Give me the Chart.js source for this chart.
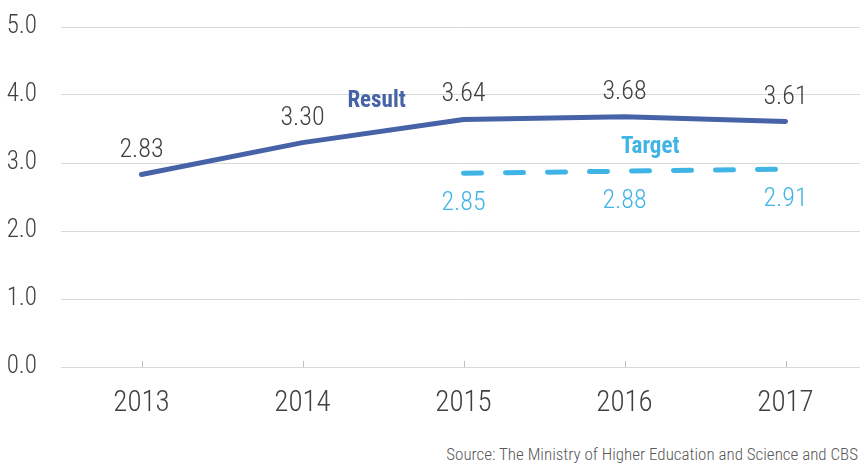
<!DOCTYPE html>
<html>
<head>
<meta charset="utf-8">
<script src="https://cdn.jsdelivr.net/npm/chart.js@4/dist/chart.umd.min.js"></script>
<style>
    html, body { margin: 0; padding: 0; background: #fff; overflow: hidden; }
    #wrap { position: absolute; left: 0; top: 0; width: 866px; height: 440px; }
    #source {
        position: absolute; right: 2px; top: 444px;
        font-family: "Roboto Condensed", sans-serif;
        font-weight: 300;
        font-size: 17px; color: #595959; white-space: nowrap;
    }
</style>
</head>
<body>
<div id="wrap"><canvas id="chart"></canvas></div>
<div id="source">Source: The Ministry of Higher Education and Science and CBS</div>
<script>
// chart data
const years = ['2013', '2014', '2015', '2016', '2017'];
const resultValues = [2.83, 3.30, 3.64, 3.68, 3.61];
const targetValues = [null, null, 2.85, 2.88, 2.91];
const seriesNames = ['Result', 'Target'];
const yMin = 0;
const yMax = 5;
const yStep = 1;

const FONT = '"Roboto Condensed", "Open Sans", sans-serif';
const BLUE = '#4763a8';
const LIGHT = '#41b4e6';
const GREY = '#404040';

// small upward tick marks on the x axis, at each category
const axisTicks = {
    id: 'axisTicks',
    beforeDatasetsDraw(chart) {
        const { ctx, scales: { x } } = chart;
        ctx.save();
        ctx.strokeStyle = '#bfbfbf';
        ctx.lineWidth = 1;
        x.ticks.forEach((t, i) => {
            const px = Math.round(x.getPixelForTick(i)) + 0.5;
            ctx.beginPath();
            ctx.moveTo(px, x.top);
            ctx.lineTo(px, x.top - 6);
            ctx.stroke();
        });
        ctx.restore();
    }
};

// value labels and series names
const valueLabels = {
    id: 'valueLabels',
    afterDatasetsDraw(chart) {
        const { ctx, scales: { x, y } } = chart;
        ctx.save();
        ctx.textAlign = 'center';
        ctx.textBaseline = 'alphabetic';
        ctx.font = '300 26px ' + FONT;
        chart.data.datasets.forEach((ds, di) => {
            const meta = chart.getDatasetMeta(di);
            meta.data.forEach((pt, i) => {
                const v = ds.data[i];
                if (v == null) return;
                if (di === 0) {
                    ctx.fillStyle = GREY;
                    ctx.fillText(v.toFixed(2), pt.x, pt.y - 18);
                } else {
                    ctx.fillStyle = LIGHT;
                    ctx.fillText(v.toFixed(2), pt.x, pt.y + 37);
                }
            });
        });
        // series names placed in data space
        ctx.font = 'bold 23px ' + FONT;
        ctx.fillStyle = BLUE;
        ctx.fillText(seriesNames[0], x.getPixelForValue(1.46), y.getPixelForValue(3.82));
        ctx.fillStyle = LIGHT;
        ctx.fillText(seriesNames[1], x.getPixelForValue(3.16), y.getPixelForValue(3.15));
        ctx.restore();
    }
};

new Chart(document.getElementById('chart'), {
    type: 'line',
    data: {
        labels: years,
        datasets: [{
            label: seriesNames[0],
            data: resultValues,
            borderColor: BLUE,
            borderWidth: 5,
            borderCapStyle: 'round',
            borderJoinStyle: 'round',
            tension: 0,
            pointRadius: 0
        }, {
            label: seriesNames[1],
            data: targetValues,
            borderColor: LIGHT,
            borderWidth: 5,
            borderDash: [18, 24],
            borderCapStyle: 'round',
            tension: 0,
            pointRadius: 0
        }]
    },
    options: {
        responsive: true,
        maintainAspectRatio: false,
        animation: false,
        layout: { padding: { top: 27, left: 0, right: 0, bottom: 0 } },
        plugins: {
            legend: { display: false },
            tooltip: { enabled: false }
        },
        scales: {
            x: {
                offset: true,
                grid: { display: false, drawTicks: false },
                border: { display: true, color: '#d9d9d9', width: 1 },
                ticks: { color: GREY, font: { family: FONT, size: 29, weight: 300 }, padding: 19 },
                afterFit(scale) { scale.height = 73; }
            },
            y: {
                min: yMin,
                max: yMax,
                grid: { color: '#d9d9d9', drawTicks: false },
                border: { display: false },
                ticks: {
                    stepSize: yStep,
                    color: GREY,
                    font: { family: FONT, size: 25, weight: 300 },
                    padding: 24,
                    callback: v => v.toFixed(1)
                },
                afterFit(scale) {
                    scale.width = 61;
                    scale.paddingTop = 0;
                    scale.paddingBottom = 0;
                }
            }
        }
    },
    plugins: [axisTicks, valueLabels]
});
</script>
</body>
</html>
